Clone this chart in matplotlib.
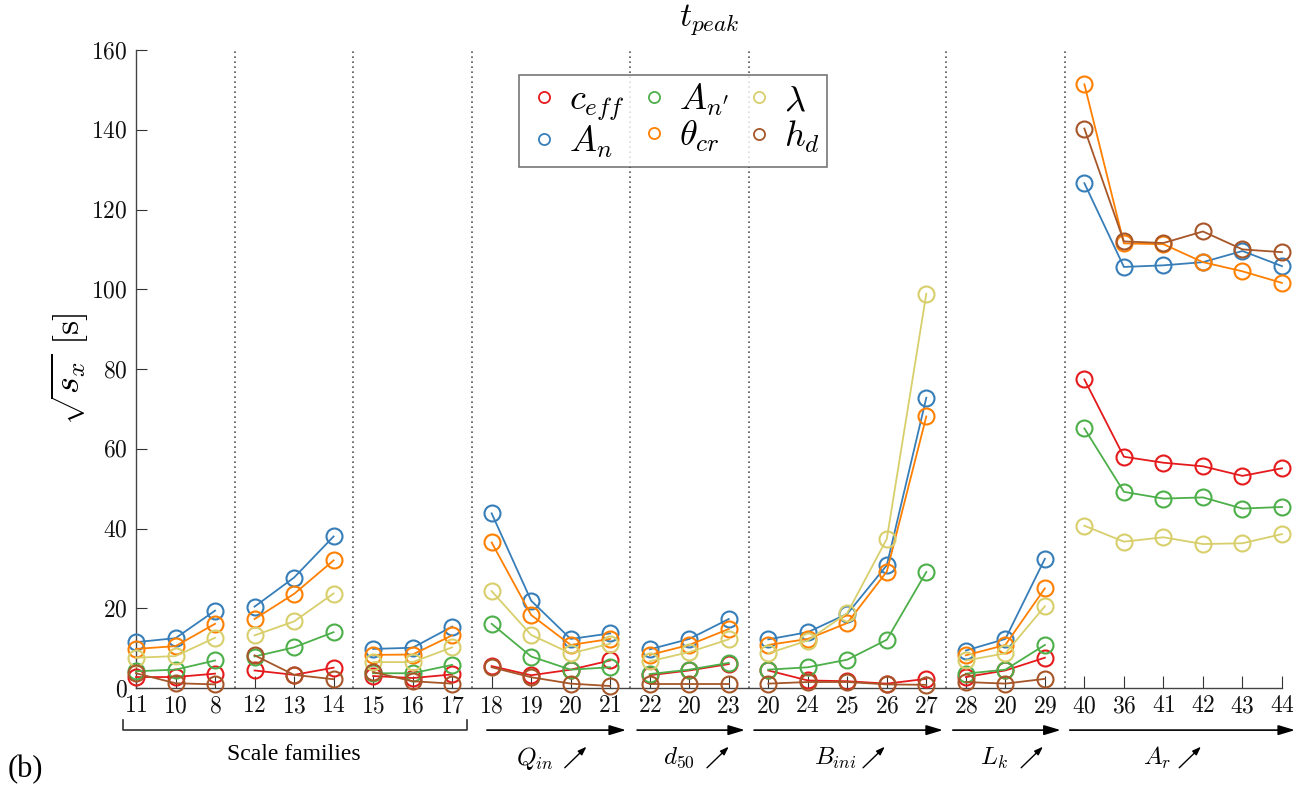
import numpy as np
import matplotlib
matplotlib.use("Agg")
import matplotlib.pyplot as plt
from matplotlib.lines import Line2D
import matplotlib.transforms as mtransforms

plt.rcParams["font.family"] = "Liberation Serif"
plt.rcParams["mathtext.fontset"] = "cm"

# x tick labels (case numbers) and group sizes
tick_labels = ['11', '10', '8', '12', '13', '14', '15', '16', '17',
               '18', '19', '20', '21', '22', '20', '23',
               '20', '24', '25', '26', '27', '28', '20', '29',
               '40', '36', '41', '42', '43', '44']
group_sizes = [3, 3, 3, 4, 3, 5, 3, 6]

c_eff = [2.75, 2.75, 3.6, 4.4, 3.3, 5.1, 3.0, 2.5, 3.4,
         5.5, 3.2, 4.6, 6.9, 3.2, 4.4, 6.0,
         4.4, 1.9, 1.7, 1.1, 2.3, 2.75, 4.4, 7.6,
         77.4, 58.0, 56.5, 55.6, 53.2, 55.1]
A_n = [11.5, 12.5, 19.4, 20.4, 27.7, 38.0, 9.8, 10.1, 15.4,
       43.8, 21.9, 12.3, 13.7, 9.7, 12.3, 17.3,
       12.2, 14.0, 18.6, 30.8, 72.8, 9.4, 12.3, 32.4,
       126.6, 105.6, 106.0, 106.8, 109.6, 105.8]
A_np = [4.2, 4.6, 6.9, 7.9, 10.2, 14.0, 3.7, 3.7, 5.8,
        16.1, 7.9, 4.6, 5.2, 3.5, 4.6, 6.3,
        4.6, 5.2, 7.1, 12.1, 29.1, 3.6, 4.6, 10.8,
        65.1, 49.2, 47.5, 47.8, 45.0, 45.4]
theta_cr = [9.8, 10.5, 16.1, 17.3, 23.6, 32.0, 8.3, 8.4, 13.2,
            36.5, 18.3, 10.8, 12.3, 8.3, 10.8, 14.8,
            10.8, 12.3, 16.3, 29.2, 68.1, 8.2, 10.8, 25.0,
            151.4, 111.5, 111.3, 106.8, 104.5, 101.6]
lam = [7.6, 8.0, 12.6, 13.2, 16.7, 23.7, 6.5, 6.5, 10.2,
       24.3, 13.3, 8.7, 11.1, 6.7, 9.0, 12.2,
       8.7, 11.9, 18.8, 37.4, 98.9, 6.9, 8.7, 20.5,
       40.7, 36.7, 37.8, 36.1, 36.3, 38.6]
h_d = [3.7, 1.2, 0.9, 8.2, 3.3, 2.2, 4.0, 1.7, 1.1,
       5.2, 2.7, 1.1, 0.5, 1.1, 1.1, 1.1,
       1.1, 1.5, 1.5, 0.9, 0.8, 1.5, 1.1, 2.3,
       140.3, 112.0, 111.6, 114.5, 110.0, 109.3]

series = [
    (c_eff, '#e41a1c', r'$c_{eff}$'),
    (A_n, '#377eb8', r'$A_n$'),
    (A_np, '#4daf4a', r"$A_{n'}$"),
    (theta_cr, '#ff7f00', r'$\theta_{cr}$'),
    (lam, '#d8cf6c', r'$\lambda$'),
    (h_d, '#a65628', r'$h_d$'),
]

# group annotations below the axis
group_names = ['Scale families', r'$Q_{in}$', r'$d_{50}$', r'$B_{ini}$', r'$L_k$', r'$A_r$']

fig = plt.figure(figsize=(13.04, 7.89), dpi=100)
ax = fig.add_axes([0.1043, 0.128, 0.8788, 0.8086])

x = np.arange(len(tick_labels))
bounds = np.cumsum([0] + group_sizes)

for vals, col, lab in series:
    vals = np.array(vals)
    for s, e in zip(bounds[:-1], bounds[1:]):
        ax.plot(x[s:e], vals[s:e], color=col, lw=1.3, marker='o', ms=11.5,
                mfc='none', mew=1.5, clip_on=False, zorder=3)

for b in bounds[1:-1]:
    ax.axvline(b - 0.5, color='#555555', ls=(0, (1, 2)), lw=1.2, zorder=1)

ax.set_xlim(0, len(tick_labels) - 1)
ax.set_ylim(0, 160)
ax.set_yticks(np.arange(0, 161, 20))
ax.set_yticklabels([f'${v}$' for v in range(0, 161, 20)])
ax.set_xticks(x)
ax.set_xticklabels([f'${t}$' for t in tick_labels])
ax.tick_params(direction='in', labelsize=17, colors='#333333', labelcolor='#111111')
ax.tick_params(axis='x', length=9, pad=6)
ax.tick_params(axis='y', length=8, pad=6)
for sp in ['top', 'right']:
    ax.spines[sp].set_visible(False)
for sp in ['left', 'bottom']:
    ax.spines[sp].set_color('#444444')
    ax.spines[sp].set_linewidth(1.0)

ax.set_title(r'$t_{peak}$', fontsize=24, pad=18)
ax.set_ylabel(r'$\sqrt{s_x}\ \mathrm{[s]}$', fontsize=26, labelpad=0)

handles = [Line2D([], [], ls='none', marker='o', ms=8, mfc='none', mew=1.3,
                  color=col) for _, col, _ in series]
leg = ax.legend(handles, [lab for _, _, lab in series], ncol=3, fontsize=26,
                loc='upper left', bbox_to_anchor=(0.334, 0.961), borderaxespad=0,
                frameon=True, fancybox=False, edgecolor='#555555',
                handletextpad=0.2, columnspacing=0.3, labelspacing=0.02,
                borderpad=0.2, handlelength=1.0)
leg.get_frame().set_linewidth(1.2)

trans = mtransforms.blended_transform_factory(ax.transData, ax.transAxes)
y_arr = -0.066
# Scale families bracket
ax.plot([-0.33, -0.33, 8.38, 8.38], [-0.05, y_arr, y_arr, -0.05], transform=trans,
        color='#333333', lw=1.2, clip_on=False)
ax.text(4.0, -0.105, group_names[0], transform=trans, ha='center', va='center',
        fontsize=17)

arrow_spans = [(8.88, 12.4), (12.68, 15.41), (15.64, 20.42), (20.67, 23.4), (23.63, 29.33)]
label_x = [10.1, 13.75, 17.7, 21.7, 25.85]
small_arrow_x = [10.85, 14.45, 18.4, 22.4, 26.4]
for (a, b), lx, sx, name in zip(arrow_spans, label_x, small_arrow_x, group_names[1:]):
    ax.annotate('', xy=(b, y_arr), xytext=(a, y_arr), xycoords=trans, textcoords=trans,
                arrowprops=dict(arrowstyle='-|>,head_length=1.0,head_width=0.3',
                                color='black', lw=1.2, shrinkA=0, shrinkB=0))
    ax.text(lx, -0.11, name, transform=trans, ha='center', va='center', fontsize=18)
    ax.annotate('', xy=(sx + 0.55, -0.092), xytext=(sx, -0.125),
                xycoords=trans, textcoords=trans,
                arrowprops=dict(arrowstyle='-|>,head_length=0.5,head_width=0.18',
                                color='black', lw=1.0, shrinkA=0, shrinkB=0))

fig.text(0.006, 1 - 770 / 789, '(b)', fontsize=22, va='center', ha='left')

fig.savefig('out.png', dpi=100)
